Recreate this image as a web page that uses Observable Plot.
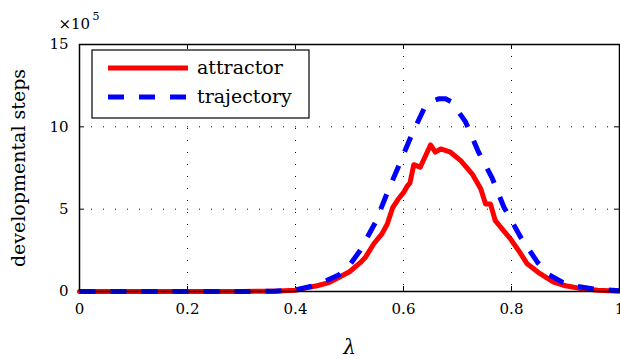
<!DOCTYPE html>
<html>
<head>
<meta charset="utf-8">
<script src="https://cdn.jsdelivr.net/npm/d3@7"></script>
<script src="https://cdn.jsdelivr.net/npm/@observablehq/plot@0.6"></script>
<style>
  html, body { margin: 0; padding: 0; background: white; }
  #chart { width: 620px; height: 359px; overflow: hidden; }
</style>
</head>
<body>
<div id="chart"></div>
<script>
// λ values and developmental steps (×10^5)
const attractorLambda = [0, 0.30, 0.36, 0.40, 0.42, 0.44, 0.46, 0.48, 0.50, 0.52, 0.53, 0.545, 0.56, 0.57, 0.58, 0.59, 0.60, 0.607, 0.612, 0.619, 0.631, 0.650, 0.659, 0.669, 0.687, 0.706, 0.727, 0.743, 0.752, 0.761, 0.770, 0.798, 0.815, 0.829, 0.85, 0.878, 0.90, 0.928, 0.96, 1.0];
const attractorSteps  = [0, 0, 0.02, 0.08, 0.22, 0.35, 0.52, 0.85, 1.2, 1.75, 2.1, 2.9, 3.5, 4.1, 5.1, 5.6, 6.0, 6.4, 6.6, 7.7, 7.55, 8.9, 8.46, 8.66, 8.46, 7.95, 7.15, 6.24, 5.32, 5.32, 4.3, 3.2, 2.4, 1.68, 1.15, 0.57, 0.35, 0.18, 0.07, 0.02];

const trajectoryLambda = [0, 0.30, 0.36, 0.40, 0.428, 0.45, 0.48, 0.50, 0.52, 0.548, 0.57, 0.594, 0.616, 0.638, 0.653, 0.665, 0.678, 0.690, 0.70, 0.715, 0.739, 0.764, 0.786, 0.817, 0.848, 0.87, 0.894, 0.92, 0.952, 1.0];
const trajectorySteps  = [0, 0, 0.02, 0.1, 0.3, 0.55, 1.0, 1.6, 2.5, 4.2, 6.0, 7.85, 9.58, 11.1, 11.55, 11.7, 11.7, 11.5, 11.0, 10.3, 8.46, 6.9, 5.12, 3.3, 1.78, 1.0, 0.57, 0.32, 0.15, 0.05];

const xTicks = [0, 0.2, 0.4, 0.6, 0.8, 1];
const xTickLabels = ["0", "0.2", "0.4", "0.6", "0.8", "1"];
const yTicks = [0, 5, 10, 15];
const yTickLabels = ["0", "5", "10", "15"];
const seriesNames = ["attractor", "trajectory"];
const seriesColors = ["#ff0000", "#0000ff"];
const xLabel = "λ";
const yLabel = "developmental steps";
const exponentBase = "×10";
const exponentPower = "5";

const attractor = attractorLambda.map((x, i) => ({x, y: attractorSteps[i]}));
const trajectory = trajectoryLambda.map((x, i) => ({x, y: trajectorySteps[i]}));

const W = 620, H = 359, mL = 79, mR = 1, mT = 44, mB = 68;
const pw = W - mL - mR, ph = H - mT - mB;
const tick = 5;
const dots = "1,11";

const chart = Plot.plot({
  width: W, height: H,
  marginLeft: mL, marginRight: mR, marginTop: mT, marginBottom: mB,
  x: {domain: [0, 1]},
  y: {domain: [0, 15]},
  style: {fontFamily: "'DejaVu Serif', serif", fontSize: "15px", color: "black", background: "white", overflow: "visible"},
  marks: [
    Plot.gridX(xTicks.slice(1, -1), {stroke: "black", strokeOpacity: 1, strokeWidth: 1, strokeDasharray: dots}),
    Plot.gridY(yTicks.slice(1, -1), {stroke: "black", strokeOpacity: 1, strokeWidth: 1, strokeDasharray: dots}),
    // inward tick marks on all four sides
    Plot.ruleX(xTicks, {x: d => d, insetTop: ph - tick, stroke: "black", strokeWidth: 1}),
    Plot.ruleX(xTicks, {x: d => d, insetBottom: ph - tick, stroke: "black", strokeWidth: 1}),
    Plot.ruleY(yTicks, {y: d => d, insetRight: pw - tick, stroke: "black", strokeWidth: 1}),
    Plot.ruleY(yTicks, {y: d => d, insetLeft: pw - tick, stroke: "black", strokeWidth: 1}),
    Plot.axisX(xTicks, {tickSize: 0, tickPadding: 12, tickFormat: (d, i) => xTickLabels[i], label: null, fontSize: 15}),
    Plot.axisY(yTicks, {tickSize: 0, tickPadding: 11, tickFormat: (d, i) => yTickLabels[i], label: null, fontSize: 15}),
    Plot.line(attractor, {x: "x", y: "y", stroke: seriesColors[0], strokeWidth: 5, strokeLinejoin: "round"}),
    Plot.line(trajectory, {x: "x", y: "y", stroke: seriesColors[1], strokeWidth: 5, strokeDasharray: "16,15", strokeLinecap: "butt"}),
    Plot.frame({stroke: "black", strokeWidth: 1.5}),
    Plot.text([xLabel], {frameAnchor: "bottom", textAnchor: "middle", dy: 62, fontSize: 20, fontStyle: "italic"}),
    Plot.text([yLabel], {frameAnchor: "left", textAnchor: "middle", dx: -61, rotate: -90, fontSize: 19}),
    Plot.text([exponentBase], {frameAnchor: "top-left", dx: -21, dy: -26, textAnchor: "start", fontSize: 15}),
    Plot.text([exponentPower], {frameAnchor: "top-left", dx: 13, dy: -32, textAnchor: "start", fontSize: 11})
  ]
});

document.getElementById("chart").appendChild(chart);

// legend box
const svg = d3.select(chart);
const lg = svg.append("g");
lg.append("rect").attr("x", 92).attr("y", 50).attr("width", 217).attr("height", 68)
  .attr("fill", "white").attr("stroke", "black").attr("stroke-width", 1.2);
seriesNames.forEach((name, i) => {
  const cy = 68 + i * 29;
  lg.append("line").attr("x1", 108).attr("x2", 188).attr("y1", cy).attr("y2", cy)
    .attr("stroke", seriesColors[i]).attr("stroke-width", 5)
    .attr("stroke-dasharray", i === 1 ? "16,15" : null);
  lg.append("text").attr("x", 197).attr("y", cy + 6)
    .style("text-anchor", "start")
    .style("font-family", "'DejaVu Serif', serif")
    .style("font-size", "19px")
    .attr("fill", "black").text(name);
});
</script>
</body>
</html>
